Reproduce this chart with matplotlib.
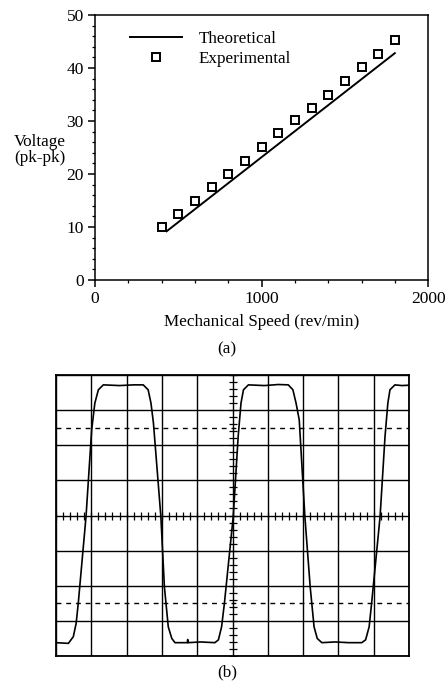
#!/usr/bin/env python3

from matplotlib import pyplot as plt
import numpy as np

plt.rcParams['font.family'] = ['Liberation Serif', 'DejaVu Serif']

# (a) voltage vs speed
speed_exp = [400, 500, 600, 700, 800, 900, 1000, 1100, 1200, 1300, 1400, 1500, 1600, 1700, 1800]
volt_exp = [10.0, 12.4, 15.0, 17.6, 20.0, 22.5, 25.1, 27.7, 30.1, 32.4, 35.0, 37.5, 40.2, 42.6, 45.3]
speed_theo = [430, 1800]
volt_theo = [9.2, 42.8]

# (b) scope trace, in graticule divisions
wave_x = [-5.0, -4.65, -4.51, -4.43, -4.37, -4.15, -3.99, -3.90, -3.80, -3.66,
          -3.2, -2.8, -2.53, -2.39, -2.31, -2.24, -2.03, -1.93, -1.82, -1.72,
          -1.63, -1.28, -1.27, -1.26, -0.9, -0.50, -0.40, -0.31, -0.23, 0.02,
          0.16, 0.24, 0.31, 0.45, 0.9, 1.3, 1.58, 1.71, 1.80, 1.89,
          2.05, 2.20, 2.31, 2.40, 2.53, 2.9, 3.3, 3.66, 3.77, 3.87,
          3.94, 4.18, 4.32, 4.40, 4.46, 4.60, 4.8, 5.0]
wave_y = [-3.62, -3.64, -3.45, -3.07, -2.50, -0.03, 2.44, 3.20, 3.58, 3.72,
          3.70, 3.72, 3.72, 3.58, 3.20, 2.63, -0.03, -2.03, -3.17, -3.50,
          -3.62, -3.62, -3.53, -3.62, -3.60, -3.62, -3.54, -3.17, -2.50, -0.03,
          2.25, 3.20, 3.58, 3.72, 3.70, 3.73, 3.72, 3.58, 3.20, 2.72,
          -0.03, -2.03, -3.17, -3.50, -3.62, -3.60, -3.62, -3.62, -3.54, -3.17,
          -2.50, -0.03, 2.25, 3.20, 3.58, 3.72, 3.70, 3.71]

fig = plt.figure(figsize=(4.46, 6.82), dpi=100)

# ---- top chart
ax = fig.add_axes([0.213, 0.5894, 0.747, 0.3886])
ax.plot(speed_theo, volt_theo, color='black', lw=1.4, label='Theoretical')
ax.plot(speed_exp, volt_exp, ls='none', marker='s', ms=5.5, mfc='white', mec='black',
        mew=1.4, label='Experimental')
ax.set_xlim(0, 2000)
ax.set_ylim(0, 50)
ax.set_xticks([0, 1000, 2000])
ax.set_yticks([0, 10, 20, 30, 40, 50])
ax.set_xticks(np.arange(0, 2001, 200), minor=True)
ax.set_yticks(np.arange(0, 51, 2), minor=True)
ax.tick_params(which='major', direction='out', length=5, width=1.1, labelsize=12.5, pad=3)
ax.tick_params(which='minor', direction='out', length=2.5, width=0.9)
for s in ax.spines.values():
    s.set_linewidth(1.1)
ax.set_xlabel('Mechanical Speed (rev/min)', fontsize=12.3, labelpad=5)
ax.set_ylabel('Voltage\n(pk-pk)', fontsize=12.3, rotation=0, linespacing=0.95,
              va='center', ha='center')
ax.yaxis.set_label_coords(-0.165, 0.49)
ax.legend(loc='upper left', bbox_to_anchor=(0.07, 0.985), frameon=False, fontsize=12.3,
          handlelength=3.0, handletextpad=1.0, labelspacing=0.25, borderpad=0.2)

fig.text(0.509, 1 - 349 / 682, '(a)', fontsize=12.3, ha='center', va='center')

# ---- bottom scope trace
ax2 = fig.add_axes([0.1256, 0.0381, 0.7915, 0.412])
ax2.set_xlim(-5, 5)
ax2.set_ylim(-4, 4)
ax2.set_xticks(np.arange(-5, 6))
ax2.set_yticks(np.arange(-4, 5))
ax2.tick_params(length=0, labelbottom=False, labelleft=False)
ax2.grid(color='black', lw=1.0)
for s in ax2.spines.values():
    s.set_linewidth(1.3)

# dashed reference lines and centre scale marks
for yd in [-2.5, 2.5]:
    ax2.axhline(yd, color='black', lw=1.0, ls=(0, (3.5, 3.5)))
minor_x = np.arange(-5, 5.01, 0.2)
minor_y = np.arange(-4, 4.01, 0.2)
ax2.plot(minor_x, np.zeros_like(minor_x), ls='none', marker='|', ms=6, mew=0.9, color='black')
ax2.plot(np.zeros_like(minor_y), minor_y, ls='none', marker='_', ms=6, mew=0.9, color='black')

ax2.plot(wave_x, wave_y, color='black', lw=1.2)

fig.text(0.509, 1 - 672 / 682, '(b)', fontsize=12.3, ha='center', va='center')

plt.savefig('out.png', dpi=100)
